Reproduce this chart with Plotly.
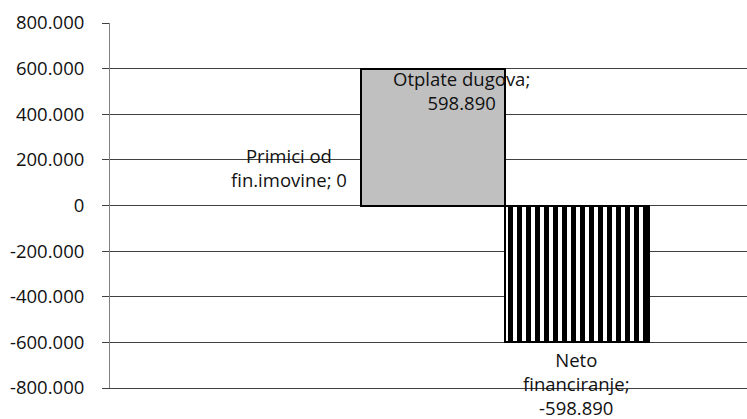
import plotly.graph_objects as go

series_names = ["Primici od fin.imovine", "Otplate dugova", "Neto financiranje"]
values = [0, 598890, -598890]
label_texts = ["Primici od<br>fin.imovine; 0", "Otplate dugova;<br>598.890", "Neto<br>financiranje;<br>-598.890"]
tick_values = [-800000, -600000, -400000, -200000, 0, 200000, 400000, 600000, 800000]
tick_labels = ["-800.000", "-600.000", "-400.000", "-200.000", "0", "200.000", "400.000", "600.000", "800.000"]

FONT = "Open Sans"
fig = go.Figure()

positions = list(range(len(values)))
fills = ["#c0c0c0", "#c0c0c0", "white"]
line_widths = [0, 2, 2]
for i, (name, v) in enumerate(zip(series_names, values)):
    marker = dict(color=fills[i], line=dict(color="black", width=line_widths[i]))
    if i == 2:
        marker["pattern"] = dict(shape="|", fgcolor="black", bgcolor="white", size=9,
                                 solidity=0.55, fgopacity=1, fillmode="overlay")
    fig.add_trace(go.Bar(x=[positions[i]], y=[v], width=1, name=name, marker=marker,
                         showlegend=False, hoverinfo="skip"))

# labels
fig.add_annotation(x=positions[0], y=values[0], text=label_texts[0], showarrow=False,
                   xanchor="center", yanchor="bottom", yshift=12)
fig.add_annotation(x=positions[1], y=values[1], text=label_texts[1], showarrow=False,
                   xanchor="center", yanchor="top", xshift=29, yshift=5)
fig.add_annotation(x=positions[2], y=values[2], text=label_texts[2], showarrow=False,
                   xanchor="center", yanchor="top", yshift=-3)

fig.update_layout(
    width=747, height=419,
    margin=dict(l=110, r=0, t=23, b=31),
    paper_bgcolor="white", plot_bgcolor="white",
    font=dict(family=FONT, size=18.5, color="#111111"),
    bargap=0,
    xaxis=dict(range=[-1.243, 3.181], showgrid=False, zeroline=False, showticklabels=False,
               ticks="", showline=True, linecolor="#404040", linewidth=1, fixedrange=True),
    yaxis=dict(range=[-800000, 800000], tickvals=tick_values, ticktext=tick_labels,
               showgrid=True, gridcolor="#404040", gridwidth=1,
               zeroline=True, zerolinecolor="#404040", zerolinewidth=1,
               showline=True, linecolor="#808080", linewidth=1,
               ticks="outside", ticklen=7, tickcolor="#404040",
               ticklabelstandoff=14, automargin=False, fixedrange=True),
)

fig.write_html("out.html", config={"displayModeBar": False},
               post_script="document.body.style.margin='0';document.body.style.overflow='hidden';")
